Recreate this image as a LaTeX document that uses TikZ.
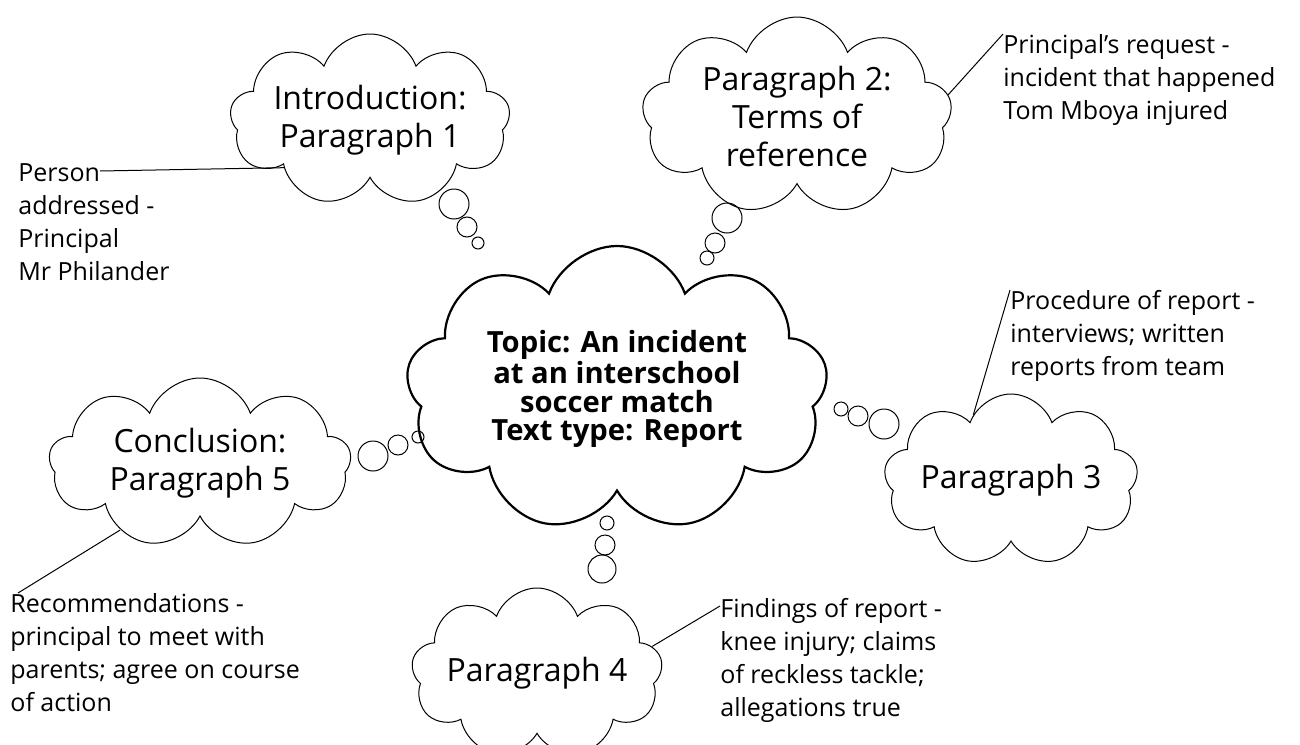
\documentclass[tikz,border=0pt]{standalone}
\usepackage{fontspec}
\setmainfont{Open Sans}
\usetikzlibrary{shapes.symbols}

\tikzset{
  idea/.style={cloud, draw, cloud puffs=9, cloud puff arc=140, cloud ignores aspect,
    align=center, inner sep=0pt, line width=0.5pt, font=\fontsize{16}{19}\selectfont},
  topic/.style={idea, line width=1.1pt, font=\bfseries\fontsize{14.6}{14.4}\selectfont},
  note/.style={align=left, anchor=north west, inner sep=0pt, font=\fontsize{12.5}{16.5}\selectfont},
  puff/.style={draw, line width=0.5pt},
  link/.style={draw, line width=0.5pt},
}

\begin{document}
\begin{tikzpicture}[x=0.5pt, y=-0.5pt]

  \useasboundingbox (0,0) rectangle (1300,744);

  % clouds
  \node[topic, minimum width=211pt, minimum height=143pt] (topic) at (617,389)
    {Topic: An incident\\at an interschool\\soccer match\\Text type: Report};
  \node[idea, minimum width=138pt, minimum height=86pt] (intro) at (370,120) {Introduction:\\Paragraph 1};
  \node[idea, minimum width=155pt, minimum height=88pt] (para2) at (797,116) {Paragraph 2:\\Terms of\\reference};
  \node[idea, minimum width=127pt, minimum height=86pt] (para3) at (1011,480) {Paragraph 3};
  \node[idea, minimum width=122pt, minimum height=85pt] (para4) at (537,673) {Paragraph 4};
  \node[idea, minimum width=151pt, minimum height=85pt] (para5) at (200,463) {Conclusion:\\Paragraph 5};

  % thought bubbles
  \foreach \x/\y/\r in {454/204/15, 467/227/10, 478/243/6,
                        727/218/15, 715/243/10, 707/258/7,
                        841/409/7, 858/416/10, 884/424/15,
                        607/523/7, 605/545/10, 602/569/14,
                        373/456/15, 398/445/10, 418/437/6}
    \draw[puff] (\x,\y) circle[radius=\r];

  % notes
  \node[note] (person) at (18,163) {Person\\addressed -\\Principal\\Mr Philander};
  \node[note] (request) at (1003,34) {Principal’s request -\\incident that happened\\Tom Mboya injured};
  \node[note] (proc) at (1010,290) {Procedure of report -\\interviews; written\\reports from team};
  \node[note] (find) at (720,598) {Findings of report -\\knee injury; claims\\of reckless tackle;\\allegations true};
  \node[note] (recom) at (10,593) {Recommendations -\\principal to meet with\\parents; agree on course\\of action};

  \coordinate (personend) at (100,171);

  % connectors
  \draw[link] (personend) -- (intro.209);
  \draw[link] (request.north west) -- (para2.8);
  \draw[link] (proc.north west) -- (para3.120);
  \draw[link] ([yshift=-4pt]find.north west) -- (para4.13);
  \draw[link] ([xshift=4pt]recom.north west) -- (para5.220);

\end{tikzpicture}
\end{document}
